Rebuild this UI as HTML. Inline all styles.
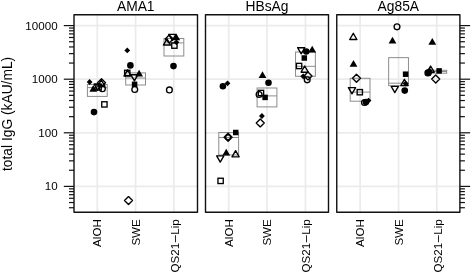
<!DOCTYPE html><html><head><meta charset="utf-8"><style>html,body{margin:0;padding:0;background:#fff}svg{display:block}text{font-family:"Liberation Sans",sans-serif;fill:#000}</style></head><body>
<svg width="472" height="272" viewBox="0 0 472 272">
<rect width="472" height="272" fill="#fff"/>
<line x1="74.0" x2="197.5" y1="186.40" y2="186.40" stroke="#ebebeb" stroke-width="1.7"/>
<line x1="74.0" x2="197.5" y1="132.80" y2="132.80" stroke="#ebebeb" stroke-width="1.7"/>
<line x1="74.0" x2="197.5" y1="79.20" y2="79.20" stroke="#ebebeb" stroke-width="1.7"/>
<line x1="74.0" x2="197.5" y1="25.60" y2="25.60" stroke="#ebebeb" stroke-width="1.7"/>
<line x1="97.3" x2="97.3" y1="14.75" y2="212.25" stroke="#ebebeb" stroke-width="1.7"/>
<line x1="135.6" x2="135.6" y1="14.75" y2="212.25" stroke="#ebebeb" stroke-width="1.7"/>
<line x1="173.9" x2="173.9" y1="14.75" y2="212.25" stroke="#ebebeb" stroke-width="1.7"/>
<line x1="205.5" x2="328.5" y1="186.40" y2="186.40" stroke="#ebebeb" stroke-width="1.7"/>
<line x1="205.5" x2="328.5" y1="132.80" y2="132.80" stroke="#ebebeb" stroke-width="1.7"/>
<line x1="205.5" x2="328.5" y1="79.20" y2="79.20" stroke="#ebebeb" stroke-width="1.7"/>
<line x1="205.5" x2="328.5" y1="25.60" y2="25.60" stroke="#ebebeb" stroke-width="1.7"/>
<line x1="228.7" x2="228.7" y1="14.75" y2="212.25" stroke="#ebebeb" stroke-width="1.7"/>
<line x1="267.0" x2="267.0" y1="14.75" y2="212.25" stroke="#ebebeb" stroke-width="1.7"/>
<line x1="305.45" x2="305.45" y1="14.75" y2="212.25" stroke="#ebebeb" stroke-width="1.7"/>
<line x1="336.75" x2="459.9" y1="186.40" y2="186.40" stroke="#ebebeb" stroke-width="1.7"/>
<line x1="336.75" x2="459.9" y1="132.80" y2="132.80" stroke="#ebebeb" stroke-width="1.7"/>
<line x1="336.75" x2="459.9" y1="79.20" y2="79.20" stroke="#ebebeb" stroke-width="1.7"/>
<line x1="336.75" x2="459.9" y1="25.60" y2="25.60" stroke="#ebebeb" stroke-width="1.7"/>
<line x1="360.1" x2="360.1" y1="14.75" y2="212.25" stroke="#ebebeb" stroke-width="1.7"/>
<line x1="398.55" x2="398.55" y1="14.75" y2="212.25" stroke="#ebebeb" stroke-width="1.7"/>
<line x1="436.8" x2="436.8" y1="14.75" y2="212.25" stroke="#ebebeb" stroke-width="1.7"/>
<rect x="87.40" y="84.5" width="19.80" height="11.90" fill="none" stroke="#8c8c8c" stroke-width="1"/>
<line x1="87.40" x2="107.20" y1="87.6" y2="87.6" stroke="#8c8c8c" stroke-width="1"/>
<rect x="125.70" y="72.9" width="19.80" height="12.10" fill="none" stroke="#8c8c8c" stroke-width="1"/>
<line x1="125.70" x2="145.50" y1="78.0" y2="78.0" stroke="#8c8c8c" stroke-width="1"/>
<rect x="164.00" y="38.5" width="19.80" height="17.50" fill="none" stroke="#8c8c8c" stroke-width="1"/>
<line x1="164.00" x2="183.80" y1="42.9" y2="42.9" stroke="#8c8c8c" stroke-width="1"/>
<rect x="218.80" y="132.5" width="19.80" height="22.50" fill="none" stroke="#8c8c8c" stroke-width="1"/>
<line x1="218.80" x2="238.60" y1="137.5" y2="137.5" stroke="#8c8c8c" stroke-width="1"/>
<rect x="257.10" y="88.0" width="19.80" height="18.90" fill="none" stroke="#8c8c8c" stroke-width="1"/>
<line x1="257.10" x2="276.90" y1="95.9" y2="95.9" stroke="#8c8c8c" stroke-width="1"/>
<rect x="295.55" y="52.0" width="19.80" height="24.30" fill="none" stroke="#8c8c8c" stroke-width="1"/>
<line x1="295.55" x2="315.35" y1="66.3" y2="66.3" stroke="#8c8c8c" stroke-width="1"/>
<rect x="350.20" y="78.3" width="19.80" height="22.90" fill="none" stroke="#8c8c8c" stroke-width="1"/>
<line x1="350.20" x2="370.00" y1="92.1" y2="92.1" stroke="#8c8c8c" stroke-width="1"/>
<rect x="388.65" y="57.65" width="19.80" height="28.05" fill="none" stroke="#8c8c8c" stroke-width="1"/>
<line x1="388.65" x2="408.45" y1="83.2" y2="83.2" stroke="#8c8c8c" stroke-width="1"/>
<rect x="426.90" y="70.3" width="19.80" height="2.90" fill="none" stroke="#8c8c8c" stroke-width="1"/>
<line x1="426.90" x2="446.70" y1="71.5" y2="71.5" stroke="#8c8c8c" stroke-width="1"/>
<polygon points="89.6,79.1 92.5,82.0 89.6,84.9 86.69999999999999,82.0" fill="#000"/>
<polygon points="93.30,84.96 89.40,91.76 97.20,91.76" fill="#000"/>
<polygon points="101.5,78.8 105.5,82.8 101.5,86.8 97.5,82.8" fill="none" stroke="#000" stroke-width="1.35" stroke-linejoin="round"/>
<polygon points="101.30,80.00 97.70,86.20 104.90,86.20" fill="none" stroke="#000" stroke-width="1.35" stroke-linejoin="round"/>
<polygon points="97.60,90.20 94.00,84.00 101.20,84.00" fill="none" stroke="#000" stroke-width="1.35" stroke-linejoin="round"/>
<rect x="95.95" y="84.75" width="5.3" height="5.3" fill="none" stroke="#000" stroke-width="1.35"/>
<circle cx="102.4" cy="88.75" r="2.9" fill="none" stroke="#000" stroke-width="1.35"/>
<rect x="101.75" y="101.75" width="5.3" height="5.3" fill="none" stroke="#000" stroke-width="1.35"/>
<circle cx="94" cy="112.1" r="3.3" fill="#000"/>
<polygon points="127.25,47.5 130.15,50.4 127.25,53.3 124.35,50.4" fill="#000"/>
<circle cx="130.4" cy="65.4" r="3.3" fill="#000"/>
<rect x="124.60" y="70.25" width="5.3" height="5.3" fill="none" stroke="#000" stroke-width="1.35"/>
<polygon points="127.60,69.90 124.00,76.10 131.20,76.10" fill="none" stroke="#000" stroke-width="1.35" stroke-linejoin="round"/>
<polygon points="139.10,69.66 135.20,76.46 143.00,76.46" fill="#000"/>
<polygon points="134.40,80.90 130.80,74.70 138.00,74.70" fill="none" stroke="#000" stroke-width="1.35" stroke-linejoin="round"/>
<rect x="131.85" y="81.55" width="5.5" height="5.5" fill="#000"/>
<circle cx="134.75" cy="89.5" r="2.9" fill="none" stroke="#000" stroke-width="1.35"/>
<polygon points="128.5,196.6 132.5,200.6 128.5,204.6 124.5,200.6" fill="none" stroke="#000" stroke-width="1.35" stroke-linejoin="round"/>
<polygon points="167.00,38.80 163.40,45.00 170.60,45.00" fill="none" stroke="#000" stroke-width="1.35" stroke-linejoin="round"/>
<polygon points="172.30,40.50 168.70,34.30 175.90,34.30" fill="none" stroke="#000" stroke-width="1.35" stroke-linejoin="round"/>
<polygon points="176.30,33.46 172.40,40.26 180.20,40.26" fill="#000"/>
<polygon points="169.2,35.0 173.2,39.0 169.2,43.0 165.2,39.0" fill="none" stroke="#000" stroke-width="1.35" stroke-linejoin="round"/>
<rect x="171.75" y="42.95" width="5.3" height="5.3" fill="none" stroke="#000" stroke-width="1.35"/>
<polygon points="176.4,39.4 179.3,42.3 176.4,45.199999999999996 173.5,42.3" fill="#000"/>
<circle cx="173.5" cy="66.1" r="3.3" fill="#000"/>
<circle cx="169.4" cy="89.9" r="2.9" fill="none" stroke="#000" stroke-width="1.35"/>
<circle cx="222.9" cy="86.25" r="3.3" fill="#000"/>
<polygon points="227.5,80.39999999999999 230.4,83.3 227.5,86.2 224.6,83.3" fill="#000"/>
<rect x="233.00" y="129.75" width="5.5" height="5.5" fill="#000"/>
<polygon points="228.1,133.25 232.1,137.25 228.1,141.25 224.1,137.25" fill="none" stroke="#000" stroke-width="1.35" stroke-linejoin="round"/>
<circle cx="228.1" cy="137.3" r="2.5" fill="none" stroke="#000" stroke-width="1.35"/>
<polygon points="226.25,148.76 222.35,155.56 230.15,155.56" fill="#000"/>
<polygon points="235.60,150.60 232.00,156.80 239.20,156.80" fill="none" stroke="#000" stroke-width="1.35" stroke-linejoin="round"/>
<polygon points="220.25,162.10 216.65,155.90 223.85,155.90" fill="none" stroke="#000" stroke-width="1.35" stroke-linejoin="round"/>
<rect x="217.95" y="178.25" width="5.3" height="5.3" fill="none" stroke="#000" stroke-width="1.35"/>
<polygon points="262.50,71.26 258.60,78.06 266.40,78.06" fill="#000"/>
<circle cx="268.5" cy="82.75" r="3.3" fill="#000"/>
<circle cx="259.1" cy="94.5" r="2.9" fill="none" stroke="#000" stroke-width="1.35"/>
<rect x="258.35" y="90.35" width="5.3" height="5.3" fill="none" stroke="#000" stroke-width="1.35"/>
<rect x="262.35" y="94.65" width="5.5" height="5.5" fill="#000"/>
<polygon points="261.9,113.1 264.79999999999995,116 261.9,118.9 259.0,116" fill="#000"/>
<polygon points="260.25,118.9 264.25,122.9 260.25,126.9 256.25,122.9" fill="none" stroke="#000" stroke-width="1.35" stroke-linejoin="round"/>
<polygon points="301.20,53.90 297.60,47.70 304.80,47.70" fill="none" stroke="#000" stroke-width="1.35" stroke-linejoin="round"/>
<circle cx="306.3" cy="51.5" r="3.3" fill="#000"/>
<polygon points="312.20,45.66 308.30,52.46 316.10,52.46" fill="#000"/>
<rect x="301.55" y="55.25" width="5.5" height="5.5" fill="#000"/>
<rect x="296.45" y="63.35" width="5.3" height="5.3" fill="none" stroke="#000" stroke-width="1.35"/>
<polygon points="304.70,66.00 301.10,72.20 308.30,72.20" fill="none" stroke="#000" stroke-width="1.35" stroke-linejoin="round"/>
<polygon points="303.2,73.39999999999999 306.09999999999997,76.3 303.2,79.2 300.3,76.3" fill="#000"/>
<polygon points="308,71.9 312.0,75.9 308,79.9 304.0,75.9" fill="none" stroke="#000" stroke-width="1.35" stroke-linejoin="round"/>
<circle cx="307.2" cy="79.8" r="2.9" fill="none" stroke="#000" stroke-width="1.35"/>
<polygon points="353.30,33.30 349.70,39.50 356.90,39.50" fill="none" stroke="#000" stroke-width="1.35" stroke-linejoin="round"/>
<polygon points="353.50,60.06 349.60,66.86 357.40,66.86" fill="#000"/>
<polygon points="356.5,74.2 360.5,78.2 356.5,82.2 352.5,78.2" fill="none" stroke="#000" stroke-width="1.35" stroke-linejoin="round"/>
<polygon points="352.00,93.80 348.40,87.60 355.60,87.60" fill="none" stroke="#000" stroke-width="1.35" stroke-linejoin="round"/>
<rect x="357.15" y="89.55" width="5.3" height="5.3" fill="none" stroke="#000" stroke-width="1.35"/>
<circle cx="366" cy="102.1" r="3.3" fill="#000"/>
<circle cx="364.5" cy="102.5" r="2.9" fill="none" stroke="#000" stroke-width="1.35"/>
<polygon points="368.5,97.69999999999999 371.4,100.6 368.5,103.5 365.6,100.6" fill="#000"/>
<circle cx="397.0" cy="26.8" r="2.9" fill="none" stroke="#000" stroke-width="1.35"/>
<polygon points="392.50,36.66 388.60,43.46 396.40,43.46" fill="#000"/>
<rect x="402.85" y="71.45" width="5.5" height="5.5" fill="#000"/>
<polygon points="404.40,79.30 400.80,85.50 408.00,85.50" fill="none" stroke="#000" stroke-width="1.35" stroke-linejoin="round"/>
<polygon points="405.7,80.6 408.59999999999997,83.5 405.7,86.4 402.8,83.5" fill="#000"/>
<polygon points="394.80,92.60 391.20,86.40 398.40,86.40" fill="none" stroke="#000" stroke-width="1.35" stroke-linejoin="round"/>
<circle cx="404.75" cy="90.6" r="3.3" fill="#000"/>
<polygon points="432.30,38.06 428.40,44.86 436.20,44.86" fill="#000"/>
<circle cx="428.5" cy="72.8" r="3.3" fill="#000"/>
<circle cx="427.9" cy="72.9" r="2.9" fill="none" stroke="#000" stroke-width="1.35"/>
<polygon points="429.6,67.69999999999999 432.5,70.6 429.6,73.5 426.70000000000005,70.6" fill="#000"/>
<polygon points="430.60,66.00 427.00,72.20 434.20,72.20" fill="none" stroke="#000" stroke-width="1.35" stroke-linejoin="round"/>
<rect x="436.35" y="68.15" width="5.5" height="5.5" fill="#000"/>
<polygon points="435.7,75.0 439.7,79.0 435.7,83.0 431.7,79.0" fill="none" stroke="#000" stroke-width="1.35" stroke-linejoin="round"/>
<rect x="74.0" y="14.75" width="123.5" height="197.5" fill="none" stroke="#111" stroke-width="1.4" stroke-linejoin="round"/>
<rect x="205.5" y="14.75" width="123.0" height="197.5" fill="none" stroke="#111" stroke-width="1.4" stroke-linejoin="round"/>
<rect x="336.75" y="14.75" width="123.14999999999998" height="197.5" fill="none" stroke="#111" stroke-width="1.4" stroke-linejoin="round"/>
<line x1="74.0" x2="69.0" y1="207.73" y2="207.73" stroke="#111" stroke-width="1.2"/>
<line x1="74.0" x2="69.0" y1="202.54" y2="202.54" stroke="#111" stroke-width="1.2"/>
<line x1="74.0" x2="69.0" y1="198.29" y2="198.29" stroke="#111" stroke-width="1.2"/>
<line x1="74.0" x2="69.0" y1="194.70" y2="194.70" stroke="#111" stroke-width="1.2"/>
<line x1="74.0" x2="69.0" y1="191.59" y2="191.59" stroke="#111" stroke-width="1.2"/>
<line x1="74.0" x2="69.0" y1="188.85" y2="188.85" stroke="#111" stroke-width="1.2"/>
<line x1="74.0" x2="63.8" y1="186.40" y2="186.40" stroke="#111" stroke-width="1.2"/>
<line x1="74.0" x2="69.0" y1="170.26" y2="170.26" stroke="#111" stroke-width="1.2"/>
<line x1="74.0" x2="69.0" y1="160.83" y2="160.83" stroke="#111" stroke-width="1.2"/>
<line x1="74.0" x2="69.0" y1="154.13" y2="154.13" stroke="#111" stroke-width="1.2"/>
<line x1="74.0" x2="69.0" y1="148.94" y2="148.94" stroke="#111" stroke-width="1.2"/>
<line x1="74.0" x2="69.0" y1="144.69" y2="144.69" stroke="#111" stroke-width="1.2"/>
<line x1="74.0" x2="69.0" y1="141.10" y2="141.10" stroke="#111" stroke-width="1.2"/>
<line x1="74.0" x2="69.0" y1="137.99" y2="137.99" stroke="#111" stroke-width="1.2"/>
<line x1="74.0" x2="69.0" y1="135.25" y2="135.25" stroke="#111" stroke-width="1.2"/>
<line x1="74.0" x2="63.8" y1="132.80" y2="132.80" stroke="#111" stroke-width="1.2"/>
<line x1="74.0" x2="69.0" y1="116.66" y2="116.66" stroke="#111" stroke-width="1.2"/>
<line x1="74.0" x2="69.0" y1="107.23" y2="107.23" stroke="#111" stroke-width="1.2"/>
<line x1="74.0" x2="69.0" y1="100.53" y2="100.53" stroke="#111" stroke-width="1.2"/>
<line x1="74.0" x2="69.0" y1="95.34" y2="95.34" stroke="#111" stroke-width="1.2"/>
<line x1="74.0" x2="69.0" y1="91.09" y2="91.09" stroke="#111" stroke-width="1.2"/>
<line x1="74.0" x2="69.0" y1="87.50" y2="87.50" stroke="#111" stroke-width="1.2"/>
<line x1="74.0" x2="69.0" y1="84.39" y2="84.39" stroke="#111" stroke-width="1.2"/>
<line x1="74.0" x2="69.0" y1="81.65" y2="81.65" stroke="#111" stroke-width="1.2"/>
<line x1="74.0" x2="63.8" y1="79.20" y2="79.20" stroke="#111" stroke-width="1.2"/>
<line x1="74.0" x2="69.0" y1="63.06" y2="63.06" stroke="#111" stroke-width="1.2"/>
<line x1="74.0" x2="69.0" y1="53.63" y2="53.63" stroke="#111" stroke-width="1.2"/>
<line x1="74.0" x2="69.0" y1="46.93" y2="46.93" stroke="#111" stroke-width="1.2"/>
<line x1="74.0" x2="69.0" y1="41.74" y2="41.74" stroke="#111" stroke-width="1.2"/>
<line x1="74.0" x2="69.0" y1="37.49" y2="37.49" stroke="#111" stroke-width="1.2"/>
<line x1="74.0" x2="69.0" y1="33.90" y2="33.90" stroke="#111" stroke-width="1.2"/>
<line x1="74.0" x2="69.0" y1="30.79" y2="30.79" stroke="#111" stroke-width="1.2"/>
<line x1="74.0" x2="69.0" y1="28.05" y2="28.05" stroke="#111" stroke-width="1.2"/>
<line x1="74.0" x2="63.8" y1="25.60" y2="25.60" stroke="#111" stroke-width="1.2"/>
<line x1="459.9" x2="464.9" y1="207.73" y2="207.73" stroke="#111" stroke-width="1.2"/>
<line x1="459.9" x2="464.9" y1="202.54" y2="202.54" stroke="#111" stroke-width="1.2"/>
<line x1="459.9" x2="464.9" y1="198.29" y2="198.29" stroke="#111" stroke-width="1.2"/>
<line x1="459.9" x2="464.9" y1="194.70" y2="194.70" stroke="#111" stroke-width="1.2"/>
<line x1="459.9" x2="464.9" y1="191.59" y2="191.59" stroke="#111" stroke-width="1.2"/>
<line x1="459.9" x2="464.9" y1="188.85" y2="188.85" stroke="#111" stroke-width="1.2"/>
<line x1="459.9" x2="470.09999999999997" y1="186.40" y2="186.40" stroke="#111" stroke-width="1.2"/>
<line x1="459.9" x2="464.9" y1="170.26" y2="170.26" stroke="#111" stroke-width="1.2"/>
<line x1="459.9" x2="464.9" y1="160.83" y2="160.83" stroke="#111" stroke-width="1.2"/>
<line x1="459.9" x2="464.9" y1="154.13" y2="154.13" stroke="#111" stroke-width="1.2"/>
<line x1="459.9" x2="464.9" y1="148.94" y2="148.94" stroke="#111" stroke-width="1.2"/>
<line x1="459.9" x2="464.9" y1="144.69" y2="144.69" stroke="#111" stroke-width="1.2"/>
<line x1="459.9" x2="464.9" y1="141.10" y2="141.10" stroke="#111" stroke-width="1.2"/>
<line x1="459.9" x2="464.9" y1="137.99" y2="137.99" stroke="#111" stroke-width="1.2"/>
<line x1="459.9" x2="464.9" y1="135.25" y2="135.25" stroke="#111" stroke-width="1.2"/>
<line x1="459.9" x2="470.09999999999997" y1="132.80" y2="132.80" stroke="#111" stroke-width="1.2"/>
<line x1="459.9" x2="464.9" y1="116.66" y2="116.66" stroke="#111" stroke-width="1.2"/>
<line x1="459.9" x2="464.9" y1="107.23" y2="107.23" stroke="#111" stroke-width="1.2"/>
<line x1="459.9" x2="464.9" y1="100.53" y2="100.53" stroke="#111" stroke-width="1.2"/>
<line x1="459.9" x2="464.9" y1="95.34" y2="95.34" stroke="#111" stroke-width="1.2"/>
<line x1="459.9" x2="464.9" y1="91.09" y2="91.09" stroke="#111" stroke-width="1.2"/>
<line x1="459.9" x2="464.9" y1="87.50" y2="87.50" stroke="#111" stroke-width="1.2"/>
<line x1="459.9" x2="464.9" y1="84.39" y2="84.39" stroke="#111" stroke-width="1.2"/>
<line x1="459.9" x2="464.9" y1="81.65" y2="81.65" stroke="#111" stroke-width="1.2"/>
<line x1="459.9" x2="470.09999999999997" y1="79.20" y2="79.20" stroke="#111" stroke-width="1.2"/>
<line x1="459.9" x2="464.9" y1="63.06" y2="63.06" stroke="#111" stroke-width="1.2"/>
<line x1="459.9" x2="464.9" y1="53.63" y2="53.63" stroke="#111" stroke-width="1.2"/>
<line x1="459.9" x2="464.9" y1="46.93" y2="46.93" stroke="#111" stroke-width="1.2"/>
<line x1="459.9" x2="464.9" y1="41.74" y2="41.74" stroke="#111" stroke-width="1.2"/>
<line x1="459.9" x2="464.9" y1="37.49" y2="37.49" stroke="#111" stroke-width="1.2"/>
<line x1="459.9" x2="464.9" y1="33.90" y2="33.90" stroke="#111" stroke-width="1.2"/>
<line x1="459.9" x2="464.9" y1="30.79" y2="30.79" stroke="#111" stroke-width="1.2"/>
<line x1="459.9" x2="464.9" y1="28.05" y2="28.05" stroke="#111" stroke-width="1.2"/>
<line x1="459.9" x2="470.09999999999997" y1="25.60" y2="25.60" stroke="#111" stroke-width="1.2"/>
<g opacity="0.999">
<text x="57.6" y="190.40" font-size="11.6" text-anchor="end">10</text>
<text x="57.6" y="136.80" font-size="11.6" text-anchor="end">100</text>
<text x="57.6" y="83.20" font-size="11.6" text-anchor="end">1000</text>
<text x="57.6" y="29.60" font-size="11.6" text-anchor="end">10000</text>
<text x="135.75" y="11.0" font-size="13.8" text-anchor="middle">AMA1</text>
<text x="267.00" y="11.0" font-size="13.8" text-anchor="middle">HBsAg</text>
<text x="398.32" y="11.0" font-size="13.8" text-anchor="middle">Ag85A</text>
<text transform="translate(101.30,219.2) rotate(-90)" font-size="11.6" text-anchor="end">AlOH</text>
<text transform="translate(139.60,219.2) rotate(-90)" font-size="11.6" text-anchor="end">SWE</text>
<text transform="translate(178.70,219.2) rotate(-90)" font-size="11.6" text-anchor="end">QS21<tspan dx="0.7" font-size="12.8">–</tspan><tspan dx="0.35">Lip</tspan></text>
<text transform="translate(232.70,219.2) rotate(-90)" font-size="11.6" text-anchor="end">AlOH</text>
<text transform="translate(271.00,219.2) rotate(-90)" font-size="11.6" text-anchor="end">SWE</text>
<text transform="translate(310.25,219.2) rotate(-90)" font-size="11.6" text-anchor="end">QS21<tspan dx="0.7" font-size="12.8">–</tspan><tspan dx="0.35">Lip</tspan></text>
<text transform="translate(364.10,219.2) rotate(-90)" font-size="11.6" text-anchor="end">AlOH</text>
<text transform="translate(402.55,219.2) rotate(-90)" font-size="11.6" text-anchor="end">SWE</text>
<text transform="translate(441.60,219.2) rotate(-90)" font-size="11.6" text-anchor="end">QS21<tspan dx="0.7" font-size="12.8">–</tspan><tspan dx="0.35">Lip</tspan></text>
<text transform="translate(12.2,113.9) rotate(-90)" font-size="13.8" text-anchor="middle">total IgG (kAU/mL)</text>
</g>
</svg></body></html>
